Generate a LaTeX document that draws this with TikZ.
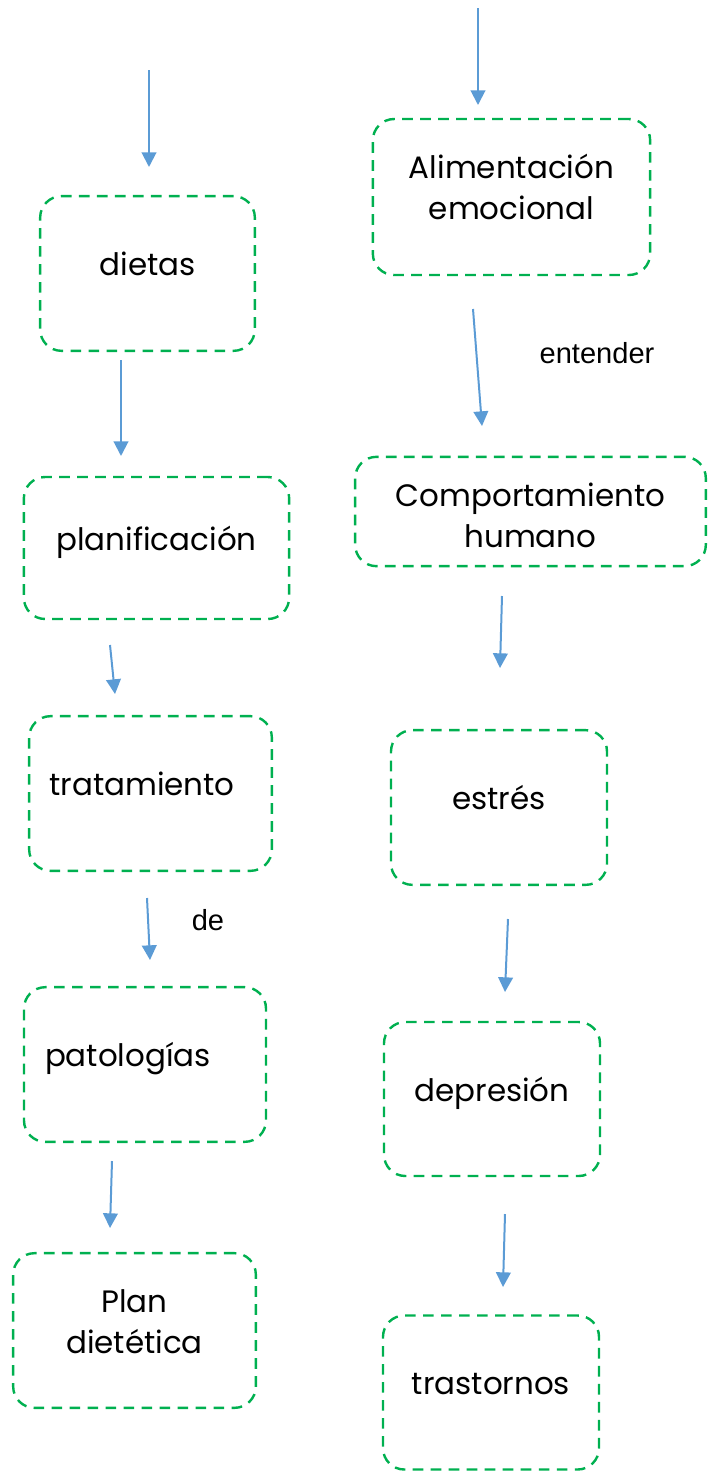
\documentclass[tikz,border=0pt]{standalone}
\usepackage{fontspec}
\setmainfont{Poppins}
\newfontfamily\arialfont{Liberation Sans}
\usetikzlibrary{arrows.meta}
\definecolor{BoxGreen}{RGB}{0,176,80}
\definecolor{ArrowBlue}{RGB}{91,155,213}
% box text: optional horizontal nudge, fixed vertical placement
\newcommand{\btext}[3][0pt]{\hspace*{#1}\raisebox{#2}[0pt][0pt]{\begin{tabular}{@{}c@{}}#3\end{tabular}}}
\tikzset{
  dbox/.style   ={rectangle, rounded corners=16pt, draw=BoxGreen, line width=1.8pt,
                  dash pattern=on 8pt off 5.5pt, text=black,
                  font=\fontsize{23.2}{30.75}\selectfont, inner sep=0pt},
  arr/.style    ={-{Triangle[length=11pt,width=11pt]}, draw=ArrowBlue, line width=1.5pt},
  linklbl/.style={font=\arialfont\fontsize{21.8}{26}\selectfont, inner sep=0pt},
}

\begin{document}
\begin{tikzpicture}[x=0.75pt,y=-0.75pt]
  \useasboundingbox (0,0) rectangle (708,1471);
  % left column
  \node[dbox,minimum width=161pt,minimum height=116pt] (dietas) at (147.5,273.5) {\btext{-1.7pt}{dietas}};
  \node[dbox,minimum width=199pt,minimum height=106.5pt] (planif) at (156.5,548) {\btext{-1.7pt}{planificación}};
  \node[dbox,minimum width=182pt,minimum height=116pt] (tratam) at (150.5,793.5) {\btext[-12.75pt]{-1.7pt}{tratamiento}};
  \node[dbox,minimum width=181.5pt,minimum height=116pt] (patol) at (145,1064.5) {\btext[-25.5pt]{-1.7pt}{patologías}};
  \node[dbox,minimum width=182pt,minimum height=116pt] (plandiet) at (134.5,1330.5) {\btext{-1.7pt}{Plan\\dietética}};
  % right column
  \node[dbox,minimum width=208pt,minimum height=117pt] (alim) at (511.5,197) {\btext{-1.7pt}{Alimentación\\emocional}};
  \node[dbox,minimum width=263pt,minimum height=82pt] (comport) at (530.5,511.5) {\btext{-11.4pt}{Comportamiento\\humano}};
  \node[dbox,minimum width=162pt,minimum height=116pt] (estres) at (499,807.5) {\btext{-1.7pt}{estrés}};
  \node[dbox,minimum width=162pt,minimum height=115.5pt] (depres) at (492,1099) {\btext{-1.7pt}{depresión}};
  \node[dbox,minimum width=162pt,minimum height=115.5pt] (trast) at (491,1392.5) {\btext{-1.7pt}{trastornos}};
  % arrow ends
  \coordinate (l0a) at (149,70);   \coordinate (l0b) at (149,167);
  \coordinate (l1a) at (121,360);  \coordinate (l1b) at (121,456);
  \coordinate (l2a) at (110,645);  \coordinate (l2b) at (115,694);
  \coordinate (l3a) at (147,898);  \coordinate (l3b) at (150,960);
  \coordinate (l4a) at (112,1161); \coordinate (l4b) at (110,1228);
  \coordinate (r0a) at (478,8);    \coordinate (r0b) at (478,105);
  \coordinate (r1a) at (473,309);  \coordinate (r1b) at (482,426);
  \coordinate (r2a) at (502,596);  \coordinate (r2b) at (500,668);
  \coordinate (r3a) at (508,919);  \coordinate (r3b) at (505,992);
  \coordinate (r4a) at (505,1214); \coordinate (r4b) at (503,1287);
  \foreach \a/\b in {l0a/l0b,l1a/l1b,l2a/l2b,l3a/l3b,l4a/l4b,r0a/r0b,r1a/r1b,r2a/r2b,r3a/r3b,r4a/r4b}{\draw[arr] (\a) -- (\b);}
  \node[linklbl] (de) at (208,920) {de};
  \node[linklbl] (entender) at (597,353) {entender};
\end{tikzpicture}
\end{document}
